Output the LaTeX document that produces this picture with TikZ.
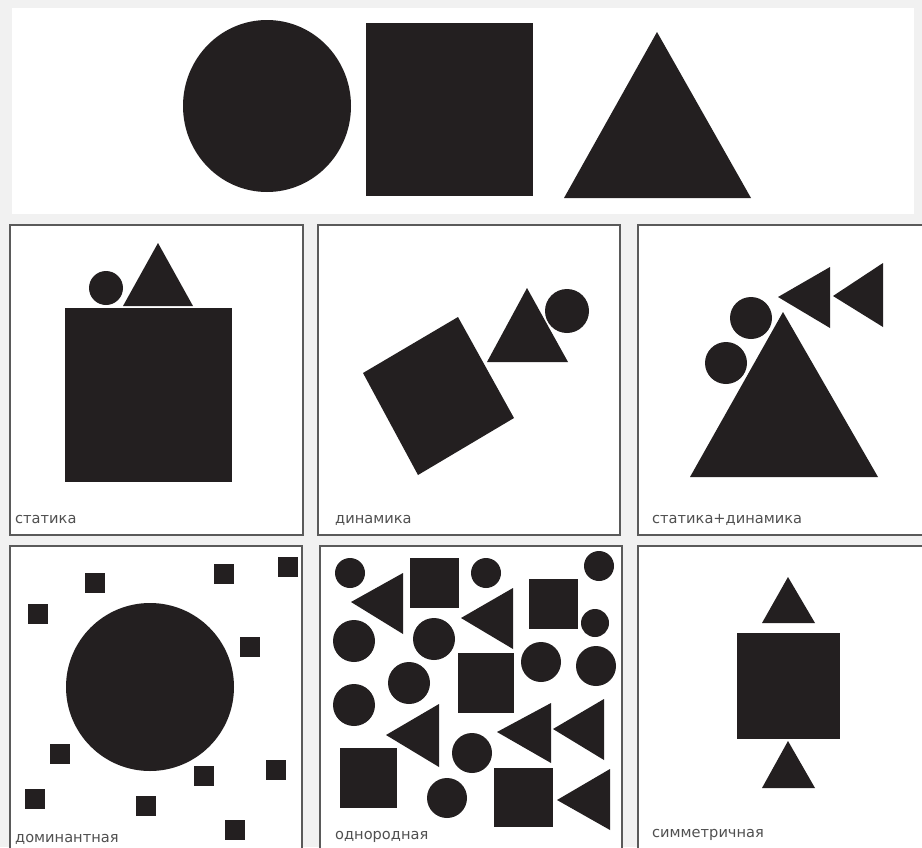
\documentclass[tikz,border=0pt]{standalone}
\usepackage{fontspec}
\setmainfont{DejaVu Sans}
\definecolor{ink}{HTML}{231F20}
\definecolor{bgcol}{HTML}{F1F1F1}
\definecolor{framecol}{HTML}{5A5A5A}
\definecolor{lblcol}{HTML}{505050}
\begin{document}
\begin{tikzpicture}[x=1pt,y=-1pt,
  blk/.style={fill=ink,draw=none},
  panel/.style={draw=framecol,line width=1.6pt,fill=white},
  lbl/.style={anchor=west,text=lblcol,font=\fontsize{14.6}{15}\selectfont,inner sep=0pt}]
\useasboundingbox (0,0) rectangle (922,847);
\clip (0,0) rectangle (922,847);
\fill[bgcol] (0,0) rectangle (922,847);
\fill[white] (12,8) rectangle (914,214);
% top row
\fill[blk] (267,106) ellipse [x radius=84pt, y radius=86pt];
\fill[blk] (366,23) rectangle (533,196);
\fill[blk] (564,198) -- (657,32) -- (751,198) -- cycle;
% panels
\draw[panel] (10,225) rectangle (303,535);
\draw[panel] (318,225) rectangle (620,535);
\draw[panel] (638,225) rectangle (935,535);
\draw[panel] (10,546) rectangle (302,870);
\draw[panel] (320,546) rectangle (622,870);
\draw[panel] (638,546) rectangle (935,870);
% panel 1: статика
\fill[blk] (65,308) rectangle (232,482);
\fill[blk] (106,288) circle[radius=17pt];
\fill[blk] (123,306) -- (158,243) -- (193,306) -- cycle;
\node[lbl] (l1) at (15,520) {статика};
% panel 2: динамика
\fill[blk] (363,373) -- (458,317) -- (514,418) -- (418,475) -- cycle;
\fill[blk] (487,362) -- (527,288) -- (568,362) -- cycle;
\fill[blk] (567,311) circle[radius=22pt];
\node[lbl] (l2) at (335,520) {динамика};
% panel 3: статика+динамика
\fill[blk] (690,477) -- (783,312) -- (878,477) -- cycle;
\fill[blk] (751,318) circle[radius=21pt];
\fill[blk] (726,363) circle[radius=21pt];
\fill[blk] (778,297) -- (830,267) -- (830,328) -- cycle;
\fill[blk] (833,296) -- (883,263) -- (883,327) -- cycle;
\node[lbl] (l3) at (652,520) {статика+динамика};
% panel 4: доминантная
\fill[blk] (150,687) circle[radius=84pt];
\foreach \cx/\cy in {95/583,224/574,288/567,38/614,250/647,60/754,204/776,276/770,35/799,146/806,235/830}
  \fill[blk] (\cx-10,\cy-10) rectangle (\cx+10,\cy+10);
\node[lbl] (l4) at (15,839) {доминантная};
% panel 5: однородная
\foreach \cx/\cy/\r in {350/573/15,486/573/15,599/566/15,595/623/14,354/641/21,434/639/21,541/662/20,596/666/20,409/683/21,354/705/21,472/753/20,447/798/20}
  \fill[blk] (\cx,\cy) circle[radius=\r pt];
\fill[blk] (410,558) rectangle (459,608);
\fill[blk] (529,579) rectangle (578,629);
\fill[blk] (458,653) rectangle (514,713);
\fill[blk] (340,748) rectangle (397,808);
\fill[blk] (494,768) rectangle (553,827);
\fill[blk] (351,602) -- (403,573) -- (403,634) -- cycle;
\fill[blk] (461,618) -- (513,588) -- (513,649) -- cycle;
\fill[blk] (386,735) -- (439,704) -- (439,767) -- cycle;
\fill[blk] (497,732) -- (551,703) -- (551,763) -- cycle;
\fill[blk] (553,729) -- (604,699) -- (604,760) -- cycle;
\fill[blk] (557,800) -- (610,769) -- (610,830) -- cycle;
\node[lbl] (l5) at (335,837) {однородная};
% panel 6: симметричная
\fill[blk] (762,623) -- (788,577) -- (815,623) -- cycle;
\fill[blk] (737,633) rectangle (840,739);
\fill[blk] (762,788) -- (788,741) -- (815,788) -- cycle;
\node[lbl] (l6) at (652,835) {симметричная};
\end{tikzpicture}
\end{document}
